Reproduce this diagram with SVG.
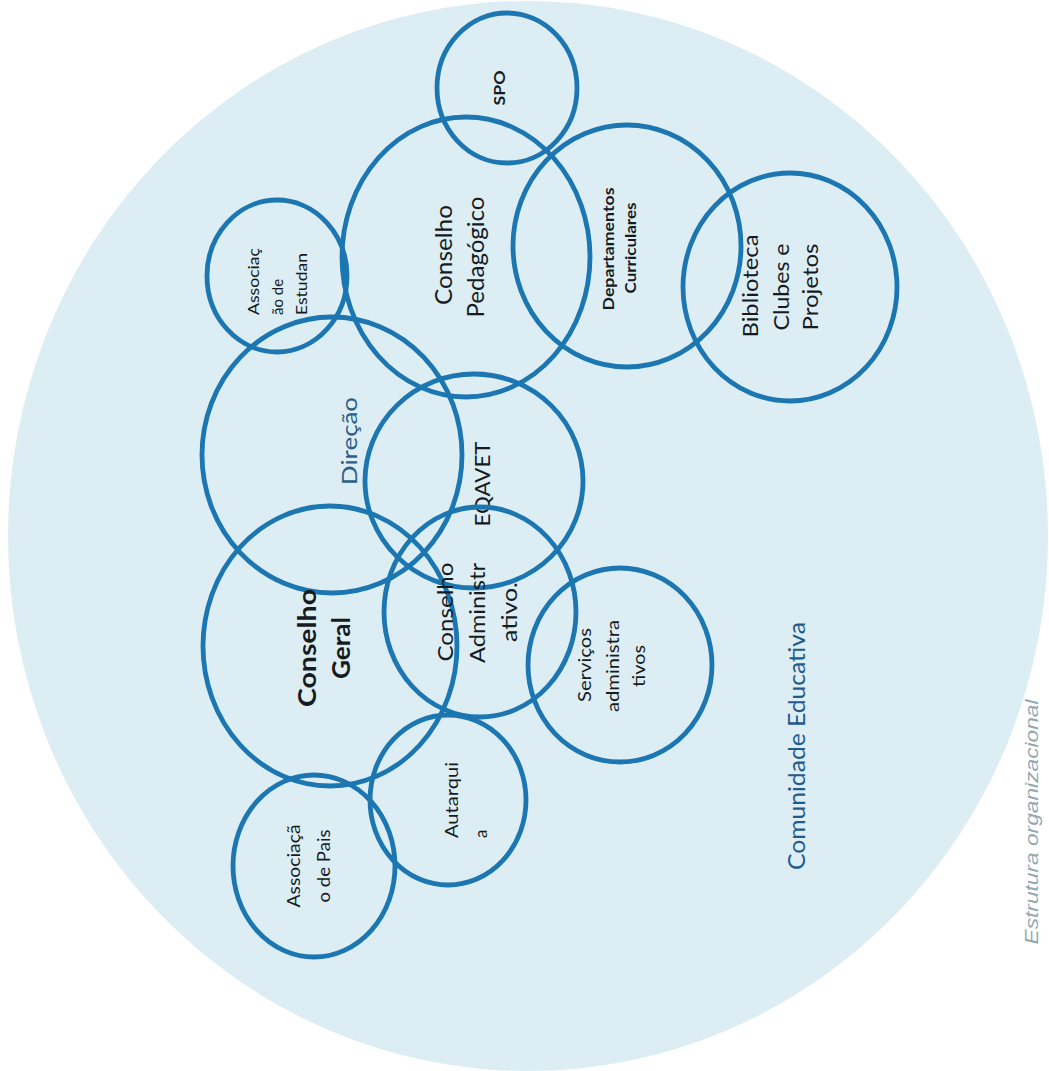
<svg xmlns="http://www.w3.org/2000/svg" width="1049" height="1071" viewBox="0 0 1049 1071">
<style>
.ring{fill:none;stroke:#1b76b1;stroke-width:4.8}
text{font-family:Lato,"Open Sans","Liberation Sans",sans-serif;fill:#161b1f}
.b{font-weight:bold}
.m{text-anchor:middle}
.s{text-anchor:start}
</style>
<rect width="1049" height="1071" fill="#ffffff"/>
<ellipse id="comunidade-bg" cx="528" cy="536" rx="520" ry="535" fill="#dcedf3"/>
<g id="connectors"/>
<g id="spo">
<ellipse class="ring" cx="507" cy="88" rx="70" ry="75"/>
<text class="b m" font-size="16" transform="translate(505,88) rotate(-90)" textLength="35" lengthAdjust="spacingAndGlyphs">SPO</text>
</g>
<g id="conselho-pedagogico">
<ellipse class="ring" cx="466" cy="257" rx="124" ry="140"/>
<text class="m" font-size="24" transform="translate(452,255) rotate(-90)" textLength="100" lengthAdjust="spacingAndGlyphs">Conselho</text>
<text class="m" font-size="24" transform="translate(484,257) rotate(-90)" textLength="121" lengthAdjust="spacingAndGlyphs">Pedagógico</text>
</g>
<g id="departamentos">
<ellipse class="ring" cx="627" cy="246" rx="114" ry="121"/>
<text class="b m" font-size="16" transform="translate(614,249) rotate(-90)" textLength="123" lengthAdjust="spacingAndGlyphs">Departamentos</text>
<text class="b m" font-size="16" transform="translate(636,248) rotate(-90)" textLength="91" lengthAdjust="spacingAndGlyphs">Curriculares</text>
</g>
<g id="biblioteca">
<ellipse class="ring" cx="790" cy="287" rx="107" ry="114"/>
<text class="m" font-size="22" transform="translate(758,286) rotate(-90)" textLength="103" lengthAdjust="spacingAndGlyphs">Biblioteca</text>
<text class="m" font-size="22" transform="translate(789,287) rotate(-90)" textLength="87" lengthAdjust="spacingAndGlyphs">Clubes e</text>
<text class="m" font-size="22" transform="translate(818,287) rotate(-90)" textLength="87" lengthAdjust="spacingAndGlyphs">Projetos</text>
</g>
<g id="associacao-estudantes">
<ellipse class="ring" cx="277" cy="276" rx="70" ry="76"/>
<text class="s" font-size="15" transform="translate(259,315) rotate(-90)" textLength="67" lengthAdjust="spacingAndGlyphs">Associaç</text>
<text class="s" font-size="15" transform="translate(283,315) rotate(-90)">ão de</text>
<text class="s" font-size="15" transform="translate(307,315) rotate(-90)" textLength="62" lengthAdjust="spacingAndGlyphs">Estudan</text>
</g>
<g id="direcao">
<ellipse class="ring" cx="332" cy="455" rx="130" ry="138"/>
<text class="m" font-size="22" style="fill:#2a5f8a" transform="translate(357,441) rotate(-90)" textLength="88" lengthAdjust="spacingAndGlyphs">Direção</text>
</g>
<g id="eqavet">
<ellipse class="ring" cx="474" cy="481" rx="109" ry="107"/>
<text class="m" font-size="22" transform="translate(490,484) rotate(-90)" textLength="85" lengthAdjust="spacingAndGlyphs">EQAVET</text>
</g>
<g id="conselho-geral">
<ellipse class="ring" cx="330" cy="646" rx="127" ry="140"/>
<text class="b m" font-size="24" transform="translate(316,648) rotate(-90)" textLength="118" lengthAdjust="spacingAndGlyphs">Conselho</text>
<text class="b m" font-size="24" transform="translate(350,648) rotate(-90)" textLength="62" lengthAdjust="spacingAndGlyphs">Geral</text>
</g>
<g id="conselho-administrativo">
<ellipse class="ring" cx="480" cy="612" rx="96" ry="105"/>
<text class="m" font-size="22" transform="translate(453,612) rotate(-90)" textLength="99" lengthAdjust="spacingAndGlyphs">Conselho</text>
<text class="m" font-size="22" transform="translate(485,613) rotate(-90)" textLength="100" lengthAdjust="spacingAndGlyphs">Administr</text>
<text class="m" font-size="22" transform="translate(517,612) rotate(-90)" textLength="60" lengthAdjust="spacingAndGlyphs">ativo.</text>
</g>
<g id="servicos-administrativos">
<ellipse class="ring" cx="620" cy="665" rx="92" ry="97"/>
<text class="m" font-size="17" transform="translate(591,665) rotate(-90)" textLength="74" lengthAdjust="spacingAndGlyphs">Serviços</text>
<text class="m" font-size="17" transform="translate(619,666) rotate(-90)" textLength="92" lengthAdjust="spacingAndGlyphs">administra</text>
<text class="m" font-size="17" transform="translate(645,666) rotate(-90)" textLength="42" lengthAdjust="spacingAndGlyphs">tivos</text>
</g>
<g id="autarquia">
<ellipse class="ring" cx="448" cy="800" rx="78" ry="85"/>
<text class="s" font-size="17" transform="translate(458,838) rotate(-90)" textLength="76" lengthAdjust="spacingAndGlyphs">Autarqui</text>
<text class="s" font-size="17" transform="translate(487,838) rotate(-90)">a</text>
</g>
<g id="associacao-pais">
<ellipse class="ring" cx="314" cy="866" rx="81" ry="91"/>
<text class="m" font-size="17" transform="translate(300,866) rotate(-90)" textLength="83" lengthAdjust="spacingAndGlyphs">Associaçã</text>
<text class="m" font-size="17" transform="translate(330,866) rotate(-90)" textLength="73" lengthAdjust="spacingAndGlyphs">o de Pais</text>
</g>
<g id="comunidade-educativa">
<text class="m" font-size="23" style="fill:#1f5c8b" transform="translate(805,746) rotate(-90)" textLength="248" lengthAdjust="spacingAndGlyphs">Comunidade Educativa</text>
</g>
<g id="legenda">
<text class="m" font-size="18" font-style="italic" style="fill:#93a7b1;font-family:'Liberation Sans',Arial,sans-serif" transform="translate(1038,822) rotate(-90)" textLength="245" lengthAdjust="spacingAndGlyphs">Estrutura organizacional</text>
</g>
</svg>
